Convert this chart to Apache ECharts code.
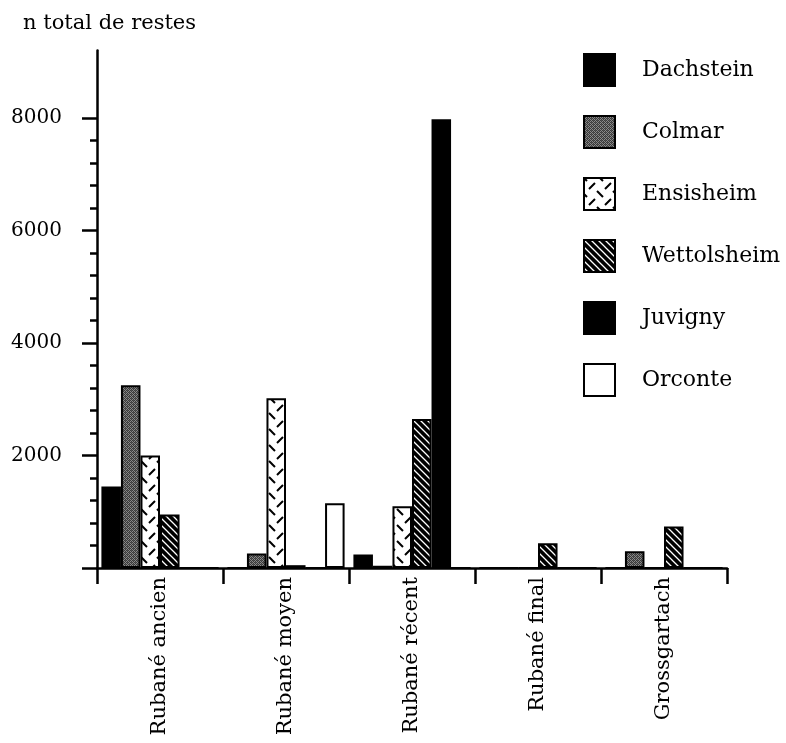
<!DOCTYPE html>
<html>
<head>
<meta charset="utf-8">
<script src="https://cdn.jsdelivr.net/npm/echarts@6/dist/echarts.min.js"></script>
<style>
html,body{margin:0;padding:0;background:#fff;}
#chart{width:786px;height:743px;}
</style>
</head>
<body>
<div id="chart"></div>
<script>
var categories = ['Rubané ancien', 'Rubané moyen', 'Rubané récent', 'Rubané final', 'Grossgartach'];
var seriesNames = ['Dachstein', 'Colmar', 'Ensisheim', 'Wettolsheim', 'Juvigny', 'Orconte'];
var dachstein   = [1450, 0, 240, 0, 0];
var colmar      = [3250, 260, 40, 0, 300];
var ensisheim   = [2000, 3020, 1100, 0, 0];
var wettolsheim = [950, 50, 2650, 440, 740];
var juvigny     = [0, 0, 7980, 0, 0];
var orconte     = [0, 1150, 0, 0, 0];
var yLabelValues = [2000, 4000, 6000, 8000];
var yMajorTicks = [0, 2000, 4000, 6000, 8000];
var yMinorTicks = [0, 400, 800, 1200, 1600, 2000, 2400, 2800, 3200, 3600, 4000, 4400, 4800, 5200, 5600, 6000, 6400, 6800, 7200, 7600, 8000];
var yMax = 9200;

function makeCanvas(w, h, draw) {
  var c = document.createElement('canvas');
  c.width = w; c.height = h;
  draw(c.getContext('2d'), w, h);
  return c;
}
var stipple = makeCanvas(4, 4, function (ctx) {
  ctx.fillStyle = '#8a8a8a'; ctx.fillRect(0, 0, 4, 4);
  ctx.fillStyle = '#3a3a3a';
  ctx.fillRect(0, 0, 1, 1); ctx.fillRect(2, 0, 1, 1);
  ctx.fillRect(1, 1, 1, 1); ctx.fillRect(3, 1, 1, 1);
  ctx.fillRect(0, 2, 1, 1); ctx.fillRect(2, 2, 1, 1);
  ctx.fillRect(1, 3, 1, 1); ctx.fillRect(3, 3, 1, 1);
  ctx.fillStyle = '#555'; ctx.fillRect(1, 0, 1, 1); ctx.fillRect(3, 2, 1, 1);
});
var dashes = makeCanvas(16, 16, function (ctx) {
  ctx.fillStyle = '#fff'; ctx.fillRect(0, 0, 16, 16);
  ctx.strokeStyle = '#000'; ctx.lineWidth = 2;
  ctx.beginPath();
  ctx.moveTo(5, 11); ctx.lineTo(11, 5);
  ctx.moveTo(-3, -3); ctx.lineTo(3, 3);
  ctx.moveTo(13, 13); ctx.lineTo(19, 19);
  ctx.moveTo(13, -3); ctx.lineTo(19, 3);
  ctx.moveTo(-3, 13); ctx.lineTo(3, 19);
  ctx.stroke();
});
var stripes = makeCanvas(7, 7, function (ctx) {
  ctx.fillStyle = '#000'; ctx.fillRect(0, 0, 7, 7);
  ctx.strokeStyle = '#fff'; ctx.lineWidth = 1.3;
  ctx.beginPath();
  ctx.moveTo(-1, -1); ctx.lineTo(8, 8);
  ctx.moveTo(-8, -1); ctx.lineTo(1, 8);
  ctx.moveTo(6, -1); ctx.lineTo(15, 8);
  ctx.stroke();
});

var fills = [
  '#000',
  { image: stipple, repeat: 'repeat' },
  { image: dashes, repeat: 'repeat' },
  { image: stripes, repeat: 'repeat' },
  '#000',
  '#fff'
];
var dataSets = [dachstein, colmar, ensisheim, wettolsheim, juvigny, orconte];
var FONT = 'DejaVu Serif';

var series = seriesNames.map(function (n, i) {
  return {
    name: n,
    type: 'bar',
    data: dataSets[i],
    barGap: '0%',
    barCategoryGap: '7%',
    itemStyle: { color: fills[i], borderColor: '#000', borderWidth: 2 },
    emphasis: { disabled: true }
  };
});

var chart = echarts.init(document.getElementById('chart'), null, { renderer: 'canvas' });
chart.setOption({
  animation: false,
  backgroundColor: '#fff',
  title: {
    text: 'n total de restes', left: 18, top: 8,
    textStyle: { fontFamily: FONT, fontSize: 21, fontWeight: 'normal', color: '#000' }
  },
  legend: {
    orient: 'vertical', left: 583, top: 53, padding: 0,
    itemWidth: 31, itemHeight: 32, itemGap: 28,
    icon: 'rect',
    data: seriesNames,
    textStyle: { fontFamily: FONT, fontSize: 22, color: '#000', padding: [0, 0, 0, 22] }
  },
  grid: { left: 97, right: 59, top: 50.5, bottom: 175, containLabel: false },
  xAxis: {
    type: 'category',
    data: categories,
    axisLine: { lineStyle: { color: '#000', width: 2.5 } },
    axisTick: { show: true, length: 16, lineStyle: { color: '#000', width: 2.5 } },
    axisLabel: { rotate: 90, margin: 9, fontFamily: FONT, fontSize: 21, color: '#000' },
    splitLine: { show: false }
  },
  yAxis: [{
    type: 'value', min: 0, max: yMax,
    axisLine: { show: true, lineStyle: { color: '#000', width: 2.5 } },
    axisTick: { show: true, length: 7, customValues: yMinorTicks, lineStyle: { color: '#000', width: 2.5 } },
    axisLabel: {
      customValues: yLabelValues, margin: 35, fontFamily: FONT, fontSize: 20, color: '#000',
      formatter: function (v) { return String(v); }
    },
    splitLine: { show: false }
  }, {
    type: 'value', min: 0, max: yMax, position: 'left',
    axisLine: { show: false },
    axisTick: { show: true, length: 15, customValues: yMajorTicks, lineStyle: { color: '#000', width: 2.5 } },
    axisLabel: { show: false },
    splitLine: { show: false }
  }],
  series: series
});
</script>
</body>
</html>
